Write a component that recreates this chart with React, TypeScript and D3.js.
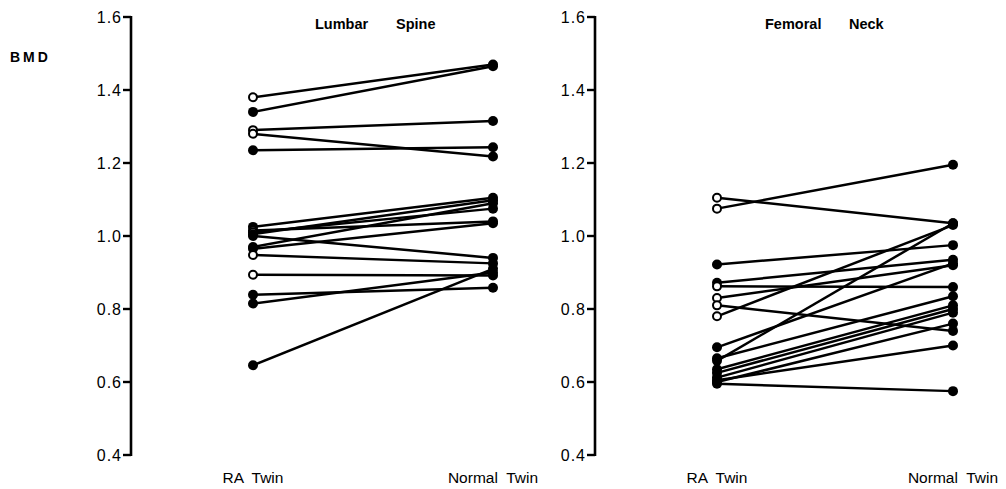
import React from 'react';
import * as d3 from 'd3';

// BMD values: [RA twin, normal twin], open = open circle for RA twin
const spineRA = [1.38, 1.34, 1.29, 1.28, 1.235, 1.025, 1.015, 1.01, 1.0, 0.97, 0.965, 0.948, 0.894, 0.839, 0.815, 0.646, 1.005];
const spineNormal = [1.47, 1.465, 1.315, 1.218, 1.243, 1.105, 1.04, 1.075, 0.94, 1.09, 1.035, 0.925, 0.892, 0.858, 0.9, 0.91, 1.098];
const spineOpen = [true, false, true, true, false, false, true, true, false, false, false, true, true, false, false, false, false];

const neckRA = [1.105, 1.075, 0.922, 0.872, 0.862, 0.83, 0.81, 0.78, 0.695, 0.665, 0.658, 0.635, 0.625, 0.612, 0.6, 0.595, 0.605];
const neckNormal = [1.035, 1.195, 0.975, 0.935, 0.86, 0.92, 0.74, 1.03, 0.925, 0.835, 1.035, 0.81, 0.8, 0.79, 0.76, 0.575, 0.7];
const neckOpen = [true, true, false, false, true, true, true, true, false, false, false, false, false, false, true, false, false];

const groups = ['RA Twin', 'Normal Twin'];
const yTicks = [0.4, 0.6, 0.8, 1.0, 1.2, 1.4, 1.6];

const FONT = 'Helvetica, Arial, "Liberation Sans", sans-serif';

const y = d3.scaleLinear().domain([0.4, 1.6]).range([455, 17]);

type PanelProps = {
  axisX: number;
  x0: number;
  x1: number;
  ra: number[];
  normal: number[];
  open: boolean[];
  title: [string, number][];
};

const Panel = ({ axisX, x0, x1, ra, normal, open, title }: PanelProps) => {
  const x = d3.scalePoint<string>().domain(groups).range([x0, x1]);
  const line = d3.line<[number, number]>().x(d => d[0]).y(d => d[1]);
  return (
    <g>
      {/* axis */}
      <line x1={axisX} x2={axisX} y1={y(1.6) - 1} y2={y(0.4) + 1} stroke="#000" strokeWidth={2.6} />
      {yTicks.map(t => (
        <g key={t}>
          <line x1={axisX - 8} x2={axisX} y1={y(t)} y2={y(t)} stroke="#000" strokeWidth={2.4} />
          <text x={axisX - 9} y={y(t)} dy="0.36em" textAnchor="end" fontSize={16} letterSpacing={1} fontFamily={FONT}>
            {t.toFixed(1)}
          </text>
        </g>
      ))}
      {groups.map(g => (
        <text key={g} x={x(g)} y={483} textAnchor="middle" fontSize={15.5} fontFamily={FONT} xmlSpace="preserve">
          {g.replace(' ', '  ')}
        </text>
      ))}
      {title.map(([s, tx]) => (
        <text key={s} x={tx} y={29} fontSize={14.5} fontWeight="bold" fontFamily={FONT}>
          {s}
        </text>
      ))}
      {/* pair lines */}
      {ra.map((v, i) => (
        <path
          key={'l' + i}
          d={line([[x('RA Twin')!, y(v)], [x('Normal Twin')!, y(normal[i])]]) || ''}
          stroke="#000"
          strokeWidth={2.5}
          fill="none"
        />
      ))}
      {normal.map((v, i) => (
        <circle key={'n' + i} cx={x('Normal Twin')} cy={y(v)} r={5} fill="#000" />
      ))}
      {ra.map((v, i) => (
        <circle
          key={'r' + i}
          cx={x('RA Twin')}
          cy={y(v)}
          r={open[i] ? 4 : 5}
          fill={open[i] ? '#fff' : '#000'}
          stroke="#000"
          strokeWidth={open[i] ? 2 : 0}
        />
      ))}
    </g>
  );
};

export default function App() {
  return (
    <svg width={1006} height={489} style={{ position: 'absolute', left: 0, top: 0, background: '#fff' }}>
      <text x={10} y={62} fontSize={14} fontWeight="bold" letterSpacing={3} fontFamily={FONT}>
        BMD
      </text>
      <Panel
        axisX={131}
        x0={253}
        x1={493}
        ra={spineRA}
        normal={spineNormal}
        open={spineOpen}
        title={[['Lumbar', 315], ['Spine', 396]]}
      />
      <Panel
        axisX={595}
        x0={717}
        x1={953}
        ra={neckRA}
        normal={neckNormal}
        open={neckOpen}
        title={[['Femoral', 765], ['Neck', 849]]}
      />
    </svg>
  );
}
